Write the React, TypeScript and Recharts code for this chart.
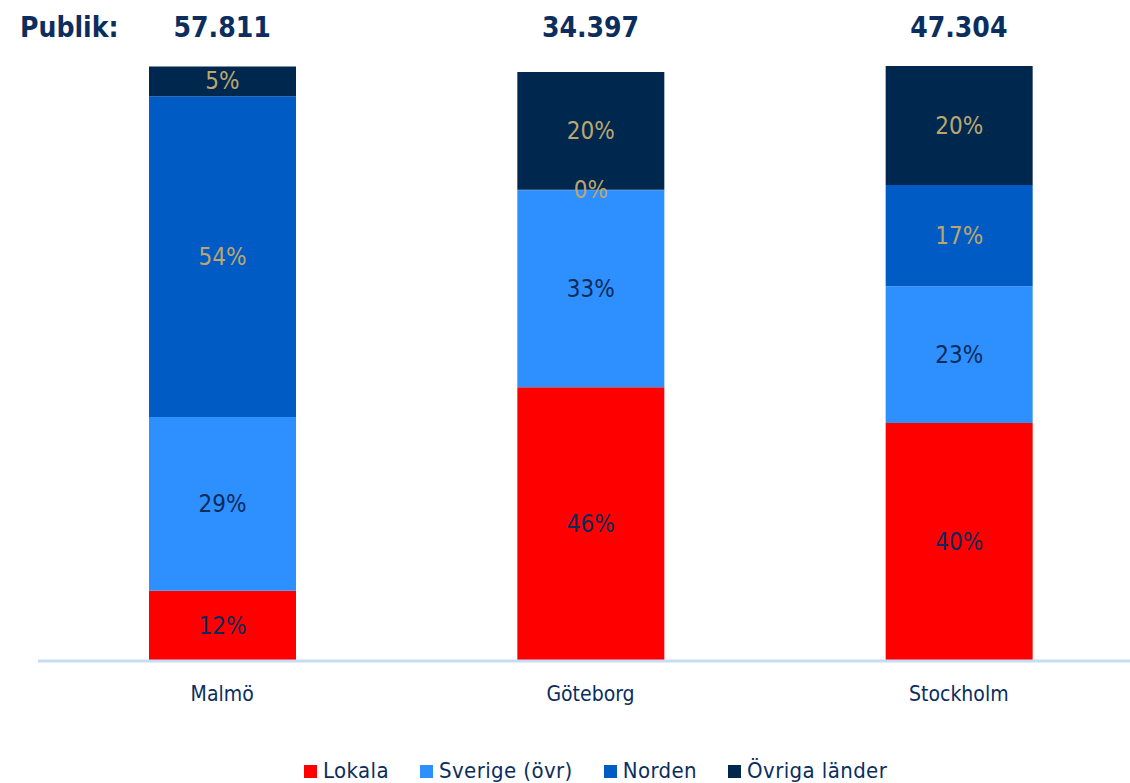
import React from 'react';
import { BarChart, Bar, XAxis, YAxis, LabelList, Legend } from 'recharts';

const cities = ['Malmö', 'Göteborg', 'Stockholm'];
const publik = ['57.811', '34.397', '47.304'];
const lokala = [11.8, 46.0, 40.0];
const sverige = [29.2, 33.1, 23.0];
const norden = [53.9, 0.1, 17.0];
const ovriga = [5.0, 19.8, 20.0];
const seriesKeys = ['lokala', 'sverige', 'norden', 'ovriga'];
const seriesNames = ['Lokala', 'Sverige (övr)', 'Norden', 'Övriga länder'];
const seriesColors = ['#ff0000', '#2e8fff', '#005bc4', '#00284f'];
const labelColors = ['#0d2b5a', '#0d2b5a', '#bba66f', '#bba66f'];

const data = cities.map((c, i) => ({
  city: c,
  lokala: lokala[i],
  sverige: sverige[i],
  norden: norden[i],
  ovriga: ovriga[i],
}));

const FONT = '"DejaVu Sans Condensed", "DejaVu Sans", sans-serif';
const NAVY = '#0b2e5e';

const makeLabel = (color: string) => (props: any) => {
  const { x, y, width, height, value } = props;
  if (value === undefined || value === null) return null;
  return (
    <text
      x={Number(x) + Number(width) / 2}
      y={Number(y) + Number(height) / 2}
      textAnchor="middle"
      dominantBaseline="central"
      fill={color}
      fontSize={24}
      fontFamily={FONT}
    >
      {Math.round(Number(value))}%
    </text>
  );
};

const LegendContent = () => (
  <div style={{ display: 'flex', alignItems: 'center', fontFamily: FONT, fontSize: 22, color: NAVY, lineHeight: '24px', whiteSpace: 'nowrap', letterSpacing: 0.4 }}>
    {seriesNames.map((n, i) => (
      <div key={n} style={{ display: 'flex', alignItems: 'center', marginRight: 31 }}>
        <span style={{ display: 'inline-block', width: 13, height: 13, background: seriesColors[i], marginRight: 6 }} />
        <span>{n}</span>
      </div>
    ))}
  </div>
);

export default function App() {
  return (
    <div style={{ position: 'absolute', left: 0, top: 0, width: 1130, height: 783, overflow: 'hidden', background: '#fff' }}>
      <div style={{ position: 'absolute', left: 20, top: 10, fontFamily: FONT, fontWeight: 'bold', fontSize: 28, color: NAVY, lineHeight: '36px' }}>
        Publik:
      </div>
      <BarChart
        width={1143}
        height={783}
        data={data}
        margin={{ top: 16, right: 0, bottom: 82, left: 38 }}
        barSize={147}
      >
        <XAxis
          dataKey="city"
          axisLine={{ stroke: '#c5dcf3', strokeWidth: 3 }}
          tickLine={false}
          tickMargin={19}
          height={40}
          tick={{ fill: NAVY, fontSize: 21, fontFamily: FONT }}
        />
        <XAxis
          xAxisId="top"
          orientation="top"
          dataKey="city"
          axisLine={false}
          tickLine={false}
          tickMargin={23}
          height={50}
          tickFormatter={(_v: any, i: number) => publik[i]}
          tick={{ fill: NAVY, fontSize: 28, fontWeight: 'bold', fontFamily: FONT }}
        />
        <YAxis hide domain={[0, 100]} />
        {seriesKeys.map((k, i) => (
          <Bar key={k} dataKey={k} name={seriesNames[i]} stackId="a" fill={seriesColors[i]} isAnimationActive={false}>
            <LabelList dataKey={k} content={makeLabel(labelColors[i])} />
          </Bar>
        ))}
        <Legend
          verticalAlign="middle"
          align="center"
          content={<LegendContent />}
          wrapperStyle={{ top: 759, left: 304, width: 'auto' }}
        />
      </BarChart>
    </div>
  );
}
